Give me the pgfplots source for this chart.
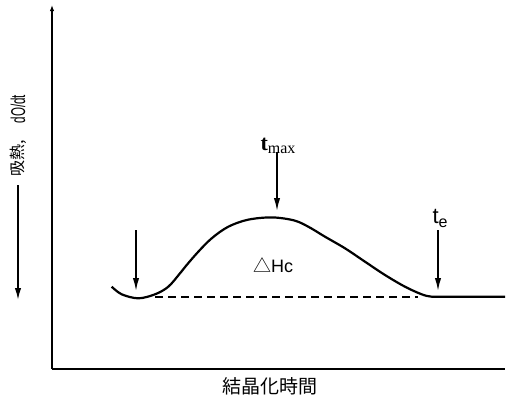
\documentclass[border=0pt]{standalone}
\usepackage{fontspec}
\setmainfont{Liberation Sans}
\newfontfamily\cjk{Noto Sans CJK JP}
\newfontfamily\seriffont{Liberation Serif}
\usepackage{pgfplots}
\pgfplotsset{compat=1.18}
\usetikzlibrary{arrows.meta}

\begin{document}
\begin{tikzpicture}[>={Latex[length=6.5pt,width=3.2pt]}]
\path[use as bounding box] (-26pt,-17pt) rectangle (227.5pt,184.5pt);
\begin{axis}[
  at={(0,0)}, anchor=origin,
  scale only axis, width=226.5pt, height=182pt,
  xmin=0, xmax=453, ymin=0, ymax=364,
  axis x line=bottom, axis y line=left,
  x axis line style={-, line width=1pt},
  y axis line style={-{Latex[length=3pt,width=2.2pt]}, line width=1pt},
  ticks=none, clip=false,
]
% crystallisation exotherm
\addplot[smooth, tension=0.55, line width=1.1pt] coordinates {
  (59.7,82.3) (69.7,74.7) (86.3,70.7) (103,74.7) (116.3,82.3)
  (128,95.7) (134.7,104) (146.3,117.3) (159.7,130.7) (176.3,142.3)
  (196,149.3) (220,151.6) (242,148.6) (256.3,142.3)
  (273,132.3) (293,120.7) (313,107.3) (333,94) (353,82.3)
  (369.7,74.7) (379.7,72.3) (393,72.3) (453,72.3)
};
% baseline under the peak
\addplot[line width=0.9pt, dash pattern=on 4pt off 2.5pt] coordinates {(103,72.3) (366,72.3)};

% onset, peak and end markers
\draw[->, line width=0.8pt] (axis cs:84,139) -- (axis cs:84,78);
\draw[->, line width=0.8pt] (axis cs:225,217) -- (axis cs:225,158);
\draw[->, line width=0.8pt] (axis cs:386,139) -- (axis cs:386,78);

\node[inner sep=0pt] at (axis cs:226,223)
  {\seriffont\fontsize{11}{12}\selectfont\bfseries t\raisebox{-0.35ex}{\fontsize{8}{9}\selectfont\mdseries max}};
\node[inner sep=0pt] at (axis cs:388,151)
  {\fontsize{11}{12}\selectfont t\raisebox{-0.35ex}{\fontsize{8}{9}\selectfont e}};
\node[font=\fontsize{9}{10}\selectfont] at (axis cs:221,104) {{\cjk △}Hc};

% axis titles
\node[font=\cjk\fontsize{9.5}{11}\selectfont] at (axis cs:218,-17) {結晶化時間};
\draw[{Latex[length=6pt,width=3.2pt]}-, line width=0.8pt] (axis cs:-34,69) -- (axis cs:-34,184);
\node[rotate=90, inner sep=0pt, font=\cjk\fontsize{8}{9}\selectfont] at (axis cs:-34,211) {吸熱,};
\node[rotate=90, inner sep=0pt, font=\fontsize{10}{11}\selectfont] at (axis cs:-34,260)
  {\scalebox{0.58}[1]{dO/dt}};
\end{axis}
\end{tikzpicture}
\end{document}
